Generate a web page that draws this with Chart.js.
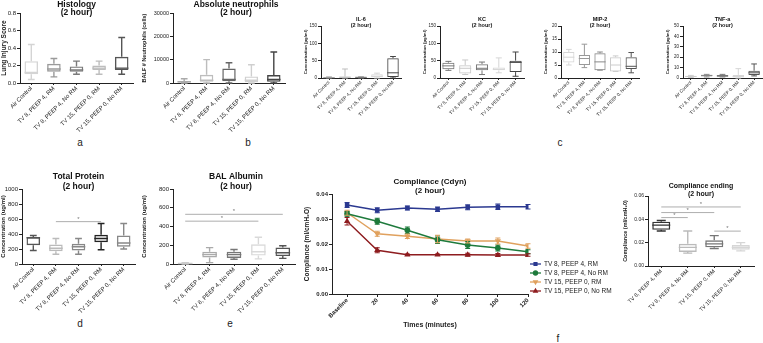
<!DOCTYPE html>
<html>
<head>
<meta charset="utf-8">
<script src="https://cdn.jsdelivr.net/npm/chart.js@4.4.1/dist/chart.umd.min.js"></script>
<style>
  body { margin: 0; width: 763px; height: 343px; position: relative; overflow: hidden; background: #fff; }
  canvas { position: absolute; }
  .tag { position: absolute; font: 10px "Liberation Sans", Arial, sans-serif; color: #222; transform: translate(-50%, -50%); }
</style>
</head>
<body>
<div class="tag" style="left:80px;top:142px">a</div>
<div class="tag" style="left:248px;top:142px">b</div>
<div class="tag" style="left:560px;top:142px">c</div>
<div class="tag" style="left:80px;top:323px">d</div>
<div class="tag" style="left:230px;top:323px">e</div>
<div class="tag" style="left:558px;top:338px">f</div>
<script>
var FONT = '"Liberation Sans", Arial, sans-serif';

// groups
var groups = ['Air Control', 'TV 8, PEEP 4, RM', 'TV 8, PEEP 4, No RM', 'TV 15, PEEP 0, RM', 'TV 15, PEEP 0, No RM'];
var ventGroups = ['TV 8, PEEP 4, RM', 'TV 8, PEEP 4, No RM', 'TV 15, PEEP 0, RM', 'TV 15, PEEP 0, No RM'];

// box plots, one row per group: [min, q1, median, q3, max]
var histology = [[0.04, 0.10, 0.12, 0.25, 0.44], [0.07, 0.13, 0.16, 0.22, 0.28], [0.10, 0.13, 0.15, 0.19, 0.25], [0.10, 0.15, 0.17, 0.20, 0.25], [0.10, 0.15, 0.17, 0.30, 0.52]];
var neutrophils = [[0, 200, 500, 900, 1800], [0, 500, 1200, 3500, 10000], [0, 700, 1500, 6200, 8700], [0, 300, 1200, 2800, 7800], [0, 500, 1500, 3400, 13300]];
var il6 = [[0, 0, 1, 2, 3], [0, 0, 2, 4, 26], [0, 1, 2, 3, 3], [0, 2, 5, 11, 14], [0, 3, 15, 57, 62]];
var kc = [[22, 25, 35, 44, 48], [10, 13, 28, 37, 52], [10, 22, 28, 40, 46], [15, 22, 25, 30, 58], [5, 17, 45, 50, 75]];
var mip2 = [[5, 6, 8, 10, 11], [4, 5, 7.5, 8.8, 13], [3, 3, 6.2, 9.5, 10], [2.5, 2.5, 5, 8, 8.5], [2, 3.5, 4.5, 8, 9.8]];
var tnfa = [[0.5, 1, 1.5, 2, 2.5], [1, 1.5, 2.5, 3, 3.5], [1, 1.2, 2, 3, 3.5], [0, 0.5, 1.5, 3, 9], [2, 3, 5, 7, 13.5]];
var totalProtein = [[180, 250, 350, 360, 380], [130, 170, 210, 260, 340], [130, 180, 230, 270, 340], [190, 290, 340, 390, 540], [200, 230, 280, 380, 540]];
var albumin = [[0, 0, 5, 10, 15], [15, 70, 100, 130, 175], [50, 65, 100, 130, 155], [55, 90, 130, 210, 285], [60, 85, 120, 175, 195]];
var complianceEnding = [[0.030, 0.031, 0.035, 0.038, 0.039], [0.011, 0.012, 0.016, 0.019, 0.030], [0.015, 0.016, 0.019, 0.022, 0.026], [0.013, 0.014, 0.016, 0.018, 0.020]];

// significance bars: [from group, to group, height]
var proteinSig = [[1, 3, 565]];
var albuminSig = [[0, 4, 530], [0, 3, 457]];
var endingSig = [[0, 3, 0.0506], [0, 2, 0.0458], [0, 1, 0.0415], [2, 3, 0.0299]];

// compliance time course
var timePoints = [0, 20, 40, 60, 80, 100, 120];
var timeLabels = ['Baseline', '20', '40', '60', '80', '100', '120'];
var cdynRM8 = [0.0356, 0.0335, 0.0344, 0.0339, 0.0347, 0.0349, 0.0349];
var cdynNoRM8 = [0.0321, 0.0291, 0.0255, 0.0217, 0.0196, 0.0184, 0.0169];
var cdynRM15 = [0.0325, 0.0241, 0.0231, 0.0220, 0.0212, 0.0212, 0.0192];
var cdynNoRM15 = [0.0291, 0.0175, 0.0157, 0.0157, 0.0157, 0.0156, 0.0156];
var errRM8 = [0.0010, 0.0010, 0.0008, 0.0009, 0.0010, 0.0011, 0.0009];
var errNoRM8 = [0.0010, 0.0012, 0.0013, 0.0015, 0.0014, 0.0012, 0.0008];
var errRM15 = [0.0010, 0.0010, 0.0009, 0.0015, 0.0008, 0.0012, 0.0009];
var errNoRM15 = [0.0015, 0.0010, 0.0003, 0.0003, 0.0006, 0.0006, 0.0005];

Chart.defaults.font.family = FONT;
Chart.defaults.color = '#222';
Chart.defaults.animation = false;
Chart.defaults.responsive = false;
Chart.defaults.devicePixelRatio = 1;
Chart.defaults.plugins.legend.display = false;
Chart.defaults.plugins.tooltip.enabled = false;

// whiskers + median on top of the floating bars
Chart.register({
  id: 'whiskers',
  afterDatasetsDraw: function(chart) {
    var ctx = chart.ctx, ys = chart.scales.y;
    chart.data.datasets.forEach(function(ds, di) {
      if (!ds.boxes) return;
      chart.getDatasetMeta(di).data.forEach(function(bar, i) {
        var b = ds.boxes[i], x = bar.x, half = bar.width / 2, cap = half * 0.5;
        ctx.save();
        ctx.strokeStyle = ds.borderColor[i];
        ctx.lineWidth = ds.borderWidth;
        ctx.beginPath();
        ctx.moveTo(x, ys.getPixelForValue(b[3])); ctx.lineTo(x, ys.getPixelForValue(b[4]));
        ctx.moveTo(x - cap, ys.getPixelForValue(b[4])); ctx.lineTo(x + cap, ys.getPixelForValue(b[4]));
        ctx.moveTo(x, ys.getPixelForValue(b[1])); ctx.lineTo(x, ys.getPixelForValue(b[0]));
        ctx.moveTo(x - cap, ys.getPixelForValue(b[0])); ctx.lineTo(x + cap, ys.getPixelForValue(b[0]));
        ctx.moveTo(x - half, ys.getPixelForValue(b[2])); ctx.lineTo(x + half, ys.getPixelForValue(b[2]));
        ctx.stroke();
        ctx.restore();
      });
    });
  }
});

// significance lines with a star
Chart.register({
  id: 'sig',
  afterDatasetsDraw: function(chart, args, o) {
    if (!o.bars) return;
    var ctx = chart.ctx, xs = chart.scales.x, ys = chart.scales.y;
    ctx.save();
    ctx.strokeStyle = '#999';
    ctx.fillStyle = '#777';
    ctx.lineWidth = 0.8;
    ctx.font = '6px ' + FONT;
    ctx.textAlign = 'center';
    o.bars.forEach(function(s) {
      var x1 = xs.getPixelForValue(s[0]), x2 = xs.getPixelForValue(s[1]), y = ys.getPixelForValue(s[2]);
      ctx.beginPath(); ctx.moveTo(x1, y); ctx.lineTo(x2, y); ctx.stroke();
      ctx.fillText('*', (x1 + x2) / 2, y - 1);
    });
    ctx.restore();
  }
});

// two line title that does not take layout space
Chart.register({
  id: 'panelTitle',
  afterDraw: function(chart, args, o) {
    if (!o.lines) return;
    var ctx = chart.ctx, a = chart.chartArea;
    ctx.save();
    ctx.font = 'bold ' + o.size + 'px ' + FONT;
    ctx.fillStyle = '#111';
    ctx.textAlign = 'center';
    ctx.textBaseline = 'middle';
    o.lines.forEach(function(t, i) {
      ctx.fillText(t, (a.left + a.right) / 2 + (o.dx || 0), o.y + i * o.gap);
    });
    ctx.restore();
  }
});

// error bars for the time course
Chart.register({
  id: 'errorBars',
  afterDatasetsDraw: function(chart) {
    var ctx = chart.ctx, ys = chart.scales.y;
    chart.data.datasets.forEach(function(ds, di) {
      if (!ds.errors) return;
      chart.getDatasetMeta(di).data.forEach(function(pt, i) {
        var v = ds.data[i].y, e = ds.errors[i];
        var t = ys.getPixelForValue(v + e), b = ys.getPixelForValue(v - e);
        ctx.save();
        ctx.strokeStyle = ds.borderColor;
        ctx.lineWidth = 1;
        ctx.beginPath();
        ctx.moveTo(pt.x, t); ctx.lineTo(pt.x, b);
        ctx.moveTo(pt.x - 2.5, t); ctx.lineTo(pt.x + 2.5, t);
        ctx.moveTo(pt.x - 2.5, b); ctx.lineTo(pt.x + 2.5, b);
        ctx.stroke();
        ctx.restore();
      });
    });
  }
});

// legend to the right, bottom aligned on the plot
Chart.register({
  id: 'sideLegend',
  afterDraw: function(chart, args, o) {
    if (!o.show) return;
    var ctx = chart.ctx, a = chart.chartArea, n = chart.data.datasets.length;
    ctx.save();
    ctx.font = o.size + 'px ' + FONT;
    ctx.textBaseline = 'middle';
    chart.data.datasets.forEach(function(ds, i) {
      var y = a.bottom - o.bottomGap - (n - 1 - i) * o.rowH, x0 = a.right + o.dx;
      ctx.strokeStyle = ds.borderColor;
      ctx.fillStyle = ds.borderColor;
      ctx.lineWidth = 1.3;
      ctx.beginPath(); ctx.moveTo(x0, y); ctx.lineTo(x0 + 11, y); ctx.stroke();
      Chart.helpers.drawPoint(ctx, { pointStyle: ds.pointStyle, radius: 2, borderWidth: 1, rotation: ds.pointRotation || 0 }, x0 + 5.5, y);
      ctx.fillStyle = '#222';
      ctx.fillText(ds.label, x0 + 14, y);
    });
    ctx.restore();
  }
});

function place(g) {
  var c = document.createElement('canvas');
  c.width = g.yW + g.plotW + g.padRight;
  c.height = g.padTop + g.plotH + g.xH;
  c.style.left = (g.plotLeft - g.yW) + 'px';
  c.style.top = (g.plotTop - g.padTop) + 'px';
  document.body.appendChild(c);
  return c;
}
function fixY(w) { return function(s) { s.width = w; s.paddingTop = 0; s.paddingBottom = 0; }; }
function fixX(h) { return function(s) { s.height = h; s.paddingLeft = 0; s.paddingRight = 0; }; }

function boxChart(g, p) {
  return new Chart(place(g), {
    type: 'bar',
    data: {
      labels: p.labels,
      datasets: [{
        data: p.boxes.map(function(b) { return [b[1], b[3]]; }),
        boxes: p.boxes,
        backgroundColor: 'rgba(255,255,255,0)',
        borderColor: p.colors,
        borderWidth: p.lw || 1.4,
        borderSkipped: false,
        barPercentage: p.barPct,
        categoryPercentage: 1
      }]
    },
    options: {
      layout: { padding: { top: g.padTop, right: g.padRight, left: 0, bottom: 0 } },
      scales: {
        x: {
          grid: { drawOnChartArea: false, offset: false, tickLength: 2, color: '#222' },
          border: { color: '#222', width: 1 },
          ticks: { minRotation: 45, maxRotation: 45, autoSkip: false, padding: 0, font: { size: p.xFont } },
          afterFit: fixX(g.xH)
        },
        y: {
          min: p.min, max: p.max,
          ticks: { stepSize: p.step, padding: 1, font: { size: p.yFont }, callback: p.fmt },
          grid: { drawOnChartArea: false, tickLength: 3, color: '#222' },
          border: { color: '#222', width: 1 },
          title: { display: true, text: p.yTitle, padding: 0, font: { size: p.yTitleFont, weight: 'bold' } },
          afterFit: fixY(g.yW)
        }
      },
      plugins: {
        panelTitle: { lines: p.title, size: p.titleFont, y: p.titleY, gap: p.titleGap, dx: p.titleDx },
        sig: { bars: p.sig }
      }
    }
  });
}

function plain(v) { return String(v); }
function dec1(v) { return v.toFixed(1); }
function dec2(v) { return v.toFixed(2); }

boxChart({ plotLeft: 20, plotTop: 13, plotW: 113, plotH: 70, yW: 20, xH: 50, padTop: 13, padRight: 6 },
  { labels: groups, boxes: histology, colors: ['#d4d4d4', '#9a9a9a', '#7a7a7a', '#bdbdbd', '#555555'], barPct: 0.6,
    min: 0, max: 0.8, step: 0.2, fmt: dec1,
    xFont: 6, yFont: 6, yTitle: 'Lung Injury Score', yTitleFont: 6.5,
    title: ['Histology', '(2 hour)'], titleFont: 8.5, titleY: 4.5, titleGap: 8.5 });

boxChart({ plotLeft: 173, plotTop: 13, plotW: 112, plotH: 70, yW: 32, xH: 50, padTop: 13, padRight: 6 },
  { labels: groups, boxes: neutrophils, colors: ['#aaaaaa', '#bdbdbd', '#666666', '#cfcfcf', '#444444'], barPct: 0.6,
    min: 0, max: 30000, step: 10000, fmt: plain,
    xFont: 6, yFont: 5.5, yTitle: 'BALF # Neutrophils (cells)', yTitleFont: 5.5,
    title: ['Absolute neutrophils', '(2 hour)'], titleFont: 8.5, titleY: 4.5, titleGap: 8.5, titleDx: 7 });

function smallPanel(left, w, boxes, cols, max, step, title) {
  boxChart({ plotLeft: left, plotTop: 26, plotW: w, plotH: 52, yW: 18, xH: 40, padTop: 26, padRight: 3 },
    { labels: groups, boxes: boxes, colors: cols, barPct: 0.72, lw: 1, min: 0, max: max, step: step, fmt: plain,
      xFont: 4.6, yFont: 4.5, yTitle: 'Concentration (pg/ml)', yTitleFont: 4.3,
      title: [title, '(2 hour)'], titleFont: 5.5, titleY: 19, titleGap: 6 });
}
smallPanel(321, 80, il6, ['#9a9a9a', '#bdbdbd', '#777777', '#d6d6d6', '#444444'], 150, 50, 'IL-6');
smallPanel(440, 84, kc, ['#777777', '#c8c8c8', '#777777', '#d6d6d6', '#444444'], 150, 50, 'KC');
smallPanel(561, 78, mip2, ['#d6d6d6', '#999999', '#888888', '#cccccc', '#555555'], 20, 5, 'MIP-2');
smallPanel(683, 79, tnfa, ['#cccccc', '#888888', '#777777', '#d6d6d6', '#555555'], 50, 10, 'TNF-a');

boxChart({ plotLeft: 22, plotTop: 189, plotW: 113, plotH: 75, yW: 22, xH: 50, padTop: 18, padRight: 5 },
  { labels: groups, boxes: totalProtein, colors: ['#555555', '#bbbbbb', '#888888', '#222222', '#888888'], barPct: 0.6,
    min: 0, max: 1000, step: 200, fmt: plain, sig: proteinSig,
    xFont: 6, yFont: 6, yTitle: 'Concentration (ug/ml)', yTitleFont: 6,
    title: ['Total Protein', '(2 hour)'], titleFont: 8.5, titleY: 6, titleGap: 9.5 });

boxChart({ plotLeft: 173, plotTop: 189, plotW: 122, plotH: 75, yW: 32, xH: 50, padTop: 18, padRight: 5 },
  { labels: groups, boxes: albumin, colors: ['#cccccc', '#aaaaaa', '#777777', '#d9d9d9', '#555555'], barPct: 0.6,
    min: 0, max: 800, step: 200, fmt: plain, sig: albuminSig,
    xFont: 6, yFont: 6, yTitle: 'Concentration (ug/ml)', yTitleFont: 6,
    title: ['BAL Albumin', '(2 hour)'], titleFont: 8.5, titleY: 6, titleGap: 9.5, titleDx: 2 });

boxChart({ plotLeft: 648, plotTop: 196, plotW: 106, plotH: 70, yW: 26, xH: 45, padTop: 21, padRight: 3 },
  { labels: ventGroups, boxes: complianceEnding, colors: ['#333333', '#bbbbbb', '#777777', '#d6d6d6'], barPct: 0.68,
    min: 0, max: 0.06, step: 0.02, fmt: dec2, sig: endingSig,
    xFont: 5.5, yFont: 5, yTitle: 'Compliance (ml/cmH\u20820)', yTitleFont: 5.5,
    title: ['Compliance ending', '(2 hour)'], titleFont: 7, titleY: 11, titleGap: 8 });

// compliance time course
var lineGeom = { plotLeft: 332, plotTop: 194, plotW: 196, plotH: 100, yW: 29, xH: 35, padTop: 19, padRight: 86 };
function series(label, values, errors, color, style, rot) {
  return {
    label: label,
    data: timePoints.map(function(t, i) { return { x: t, y: values[i] }; }),
    errors: errors,
    borderColor: color, backgroundColor: color,
    borderWidth: 1.4, pointStyle: style, pointRotation: rot || 0, rotation: rot || 0,
    pointRadius: 2.2, tension: 0
  };
}
new Chart(place(lineGeom), {
  type: 'line',
  data: {
    datasets: [
      series('TV 8, PEEP 4, RM', cdynRM8, errRM8, '#2b3990', 'rect'),
      series('TV 8, PEEP 4, No RM', cdynNoRM8, errNoRM8, '#1e7a3c', 'circle'),
      series('TV 15, PEEP 0, RM', cdynRM15, errRM15, '#e0a15e', 'triangle', 180),
      series('TV 15, PEEP 0, No RM', cdynNoRM15, errNoRM15, '#8e1c1f', 'triangle')
    ]
  },
  options: {
    layout: { padding: { top: lineGeom.padTop, right: lineGeom.padRight, left: 0, bottom: 0 } },
    scales: {
      x: {
        type: 'linear', min: -10, max: 120,
        afterBuildTicks: function(s) { s.ticks = timePoints.map(function(v) { return { value: v }; }); },
        grid: { drawOnChartArea: false, tickLength: 3, color: '#222' },
        border: { color: '#222', width: 1 },
        ticks: { minRotation: 45, maxRotation: 45, padding: 0, font: { size: 6, weight: 'bold' },
          callback: function(v, i) { return timeLabels[i]; } },
        title: { display: true, text: 'Times (minutes)', padding: 0, font: { size: 7, weight: 'bold' } },
        afterFit: fixX(lineGeom.xH)
      },
      y: {
        min: 0, max: 0.04,
        ticks: { stepSize: 0.01, padding: 1, font: { size: 6, weight: 'bold' }, callback: dec2 },
        grid: { drawOnChartArea: false, tickLength: 3, color: '#222' },
        border: { color: '#222', width: 1 },
        title: { display: true, text: 'Compliance (ml/cmH\u2082O)', padding: 0, font: { size: 6.5, weight: 'bold' } },
        afterFit: fixY(lineGeom.yW)
      }
    },
    plugins: {
      panelTitle: { lines: ['Compliance (Cdyn)', '(2 hour)'], size: 8, y: 7, gap: 9 },
      sideLegend: { show: true, size: 6.5, dx: 2, rowH: 9, bottomGap: 3 }
    }
  }
});
</script>
</body>
</html>
